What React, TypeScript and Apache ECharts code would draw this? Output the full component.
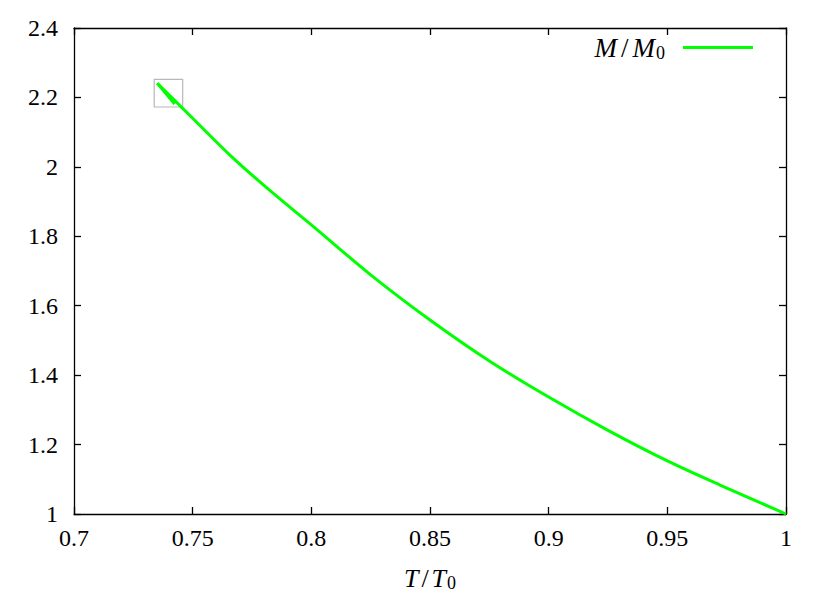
import React, { useEffect, useRef } from "react";
import * as echarts from "echarts";

const mainT = [1.0, 0.9722, 0.95, 0.925, 0.9, 0.875, 0.85, 0.825, 0.8, 0.7825, 0.7657, 0.75, 0.7351];
const mainM = [1.0, 1.0835, 1.153, 1.241, 1.337, 1.441, 1.559, 1.689, 1.833, 1.932, 2.034, 2.14, 2.2407];
const backT = [0.7351, 0.7424];
const backM = [2.2407, 2.181];
const boxCorners = [[0.7338, 2.2522], [0.7458, 2.1724]];
const xTicks = [0.7, 0.75, 0.8, 0.85, 0.9, 0.95, 1];
const yTicks = [1, 1.2, 1.4, 1.6, 1.8, 2, 2.2, 2.4];

const FONT = "Liberation Serif";
const GREEN = "#00ff00";

export default function App() {
  const ref = useRef<HTMLDivElement>(null);
  useEffect(() => {
    const chart = echarts.init(ref.current!, null, { renderer: "svg" });
    const axisCommon = {
      axisLine: { show: true, lineStyle: { color: "#000", width: 1.3 } },
      axisTick: { show: true, inside: true, length: 7, lineStyle: { color: "#000", width: 1.3 } },
      splitLine: { show: false },
    };
    const xBase = { type: "value", min: 0.7, max: 1, interval: 0.05 };
    const yBase = { type: "value", min: 1, max: 2.4, interval: 0.2 };
    const rich = {
      i: { fontFamily: FONT, fontSize: 26, fontStyle: "italic", color: "#000" },
      n: { fontFamily: FONT, fontSize: 26, color: "#000", padding: [0, 3, 0, 3] },
      s: { fontFamily: FONT, fontSize: 18, color: "#000", padding: [10, 0, 0, 1] },
    };
    chart.setOption({
      animation: false,
      backgroundColor: "#fff",
      grid: { left: 74, right: 45, top: 28, bottom: 89, containLabel: false },
      legend: {
        show: true,
        data: ["M/M0"],
        right: 73,
        top: 29,
        align: "right",
        icon: "rect",
        itemWidth: 70,
        itemHeight: 3,
        formatter: () => "{i|M}{n|/}{i|M}{s|0}",
        textStyle: {
          fontFamily: FONT,
          fontSize: 26,
          color: "#000",
          rich: {
            i: { fontFamily: FONT, fontSize: 27, fontStyle: "italic", color: "#000" },
            n: { fontFamily: FONT, fontSize: 27, color: "#000", padding: [0, 4, 0, 4] },
            s: { fontFamily: FONT, fontSize: 18, color: "#000", padding: [10, 13, 0, 1] },
          },
        },
      },
      xAxis: [
        {
          ...xBase,
          ...axisCommon,
          position: "bottom",
          name: "{i|T}{n|/}{i|T}{s|0}",
          nameLocation: "middle",
          nameGap: 50,
          nameTextStyle: { fontFamily: FONT, fontSize: 26, color: "#000", rich },
          axisLabel: {
            show: true,
            margin: 12,
            fontFamily: FONT,
            fontSize: 24,
            color: "#000",
            formatter: (v: number) => {
              const t = xTicks.find((k) => Math.abs(k - v) < 1e-6);
              return t === undefined ? "" : String(t);
            },
          },
        },
        {
          ...xBase,
          ...axisCommon,
          position: "top",
          axisLabel: { show: false },
        },
      ],
      yAxis: [
        {
          ...yBase,
          ...axisCommon,
          position: "left",
          axisLabel: {
            show: true,
            margin: 16,
            fontFamily: FONT,
            fontSize: 24,
            color: "#000",
            formatter: (v: number) => {
              const t = yTicks.find((k) => Math.abs(k - v) < 1e-6);
              return t === undefined ? "" : String(t);
            },
          },
        },
        {
          ...yBase,
          ...axisCommon,
          position: "right",
          axisLabel: { show: false },
        },
      ],
      series: [
        {
          name: "M/M0",
          type: "line",
          xAxisIndex: 0,
          yAxisIndex: 0,
          data: mainT.map((t, i) => [t, mainM[i]]),
          smooth: 0.3,
          showSymbol: false,
          symbol: "none",
          lineStyle: { color: GREEN, width: 3 },
          itemStyle: { color: GREEN },
          markArea: {
            silent: true,
            itemStyle: { color: "rgba(0,0,0,0)", borderColor: "#b8b8b8", borderWidth: 1.2 },
            data: [[{ coord: boxCorners[0] }, { coord: boxCorners[1] }]],
          },
        },
        {
          name: "back",
          type: "line",
          xAxisIndex: 0,
          yAxisIndex: 0,
          data: backT.map((t, i) => [t, backM[i]]),
          showSymbol: false,
          symbol: "none",
          lineStyle: { color: GREEN, width: 3 },
          itemStyle: { color: GREEN },
        },
      ],
    });
    return () => chart.dispose();
  }, []);
  return (
    <div
      ref={ref}
      style={{ position: "fixed", left: 0, top: 0, width: 831, height: 603 }}
    />
  );
}
